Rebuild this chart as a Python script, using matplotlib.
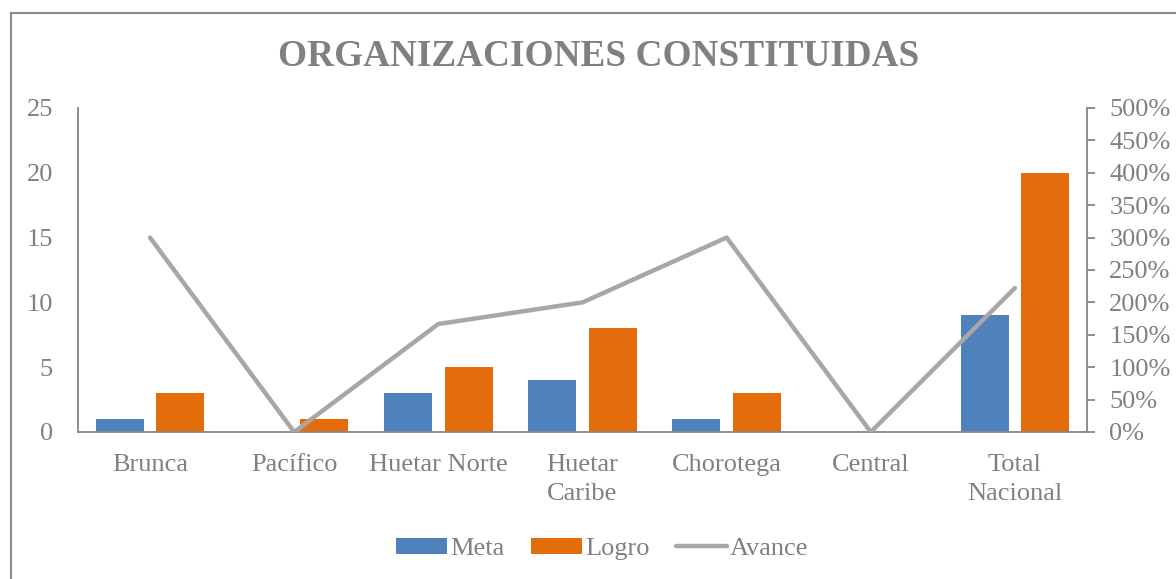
import matplotlib.pyplot as plt
import numpy as np
from matplotlib.patches import Rectangle
from matplotlib.ticker import FuncFormatter, MultipleLocator

# Data
regiones = ['Brunca', 'Pacífico', 'Huetar Norte', 'Huetar\nCaribe', 'Chorotega', 'Central', 'Total\nNacional']
meta = [1, 0, 3, 4, 1, 0, 9]
logro = [3, 1, 5, 8, 3, 0, 20]
avance = [3.0, 0.0, 5 / 3, 2.0, 3.0, 0.0, 20 / 9]

gris = '#808080'
plt.rcParams['font.family'] = ['Liberation Serif', 'DejaVu Serif']

fig = plt.figure(figsize=(11.76, 5.79), dpi=100)
ax = fig.add_axes([0.0663, 0.2539, 0.858, 0.5596])
ax2 = ax.twinx()

x = np.arange(len(regiones))
w = 0.333
b1 = ax.bar(x - 0.21, meta, w, color='#4F81BD', label='Meta', zorder=2)
b2 = ax.bar(x + 0.21, logro, w, color='#E46C0A', label='Logro', zorder=2)
l1, = ax2.plot(x, avance, color='#A9A6A4', lw=3.2, solid_capstyle='round', label='Avance')

ax.set_xlim(-0.5, len(regiones) - 0.5)
ax.set_ylim(0, 25)
ax.yaxis.set_major_locator(MultipleLocator(5))
ax2.set_ylim(0, 5)
ax2.yaxis.set_major_locator(MultipleLocator(0.5))
ax2.yaxis.set_major_formatter(FuncFormatter(lambda v, p: f'{v * 100:.0f}%'))

ax.set_xticks(x)
ax.set_xticklabels(regiones, linespacing=1.4)

for a in (ax, ax2):
    for s in a.spines.values():
        s.set_visible(False)
    a.tick_params(colors=gris, labelsize=19)
ax.spines['left'].set_visible(True)
ax.spines['bottom'].set_visible(True)
ax2.spines['right'].set_visible(True)
for s in (ax.spines['left'], ax.spines['bottom'], ax2.spines['right']):
    s.set_color('#868686')
    s.set_linewidth(1.3)
ax.tick_params(axis='y', length=0, pad=18)
ax.tick_params(axis='x', length=0, pad=16)
ax2.tick_params(axis='y', length=6, width=1.3, color='#868686', pad=10)

fig.text(0.509, 0.903, 'ORGANIZACIONES CONSTITUIDAS', ha='center', va='center',
         fontsize=26.8, fontweight='bold', color=gris)

fig.legend([b1, b2, l1], ['Meta', 'Logro', 'Avance'], loc='center', bbox_to_anchor=(0.512, 0.052),
           ncol=3, frameon=False, fontsize=19, labelcolor=gris, handlelength=1.95,
           handleheight=0.55, handletextpad=0.1, columnspacing=1.0)

# chart frame
fig.patches.append(Rectangle((11 / 1176, -0.1), 1.2, 1 - 13 / 579 + 0.1, transform=fig.transFigure,
                             fill=False, edgecolor='#8a8a8a', lw=1.5))

fig.savefig('out.png', dpi=100)
